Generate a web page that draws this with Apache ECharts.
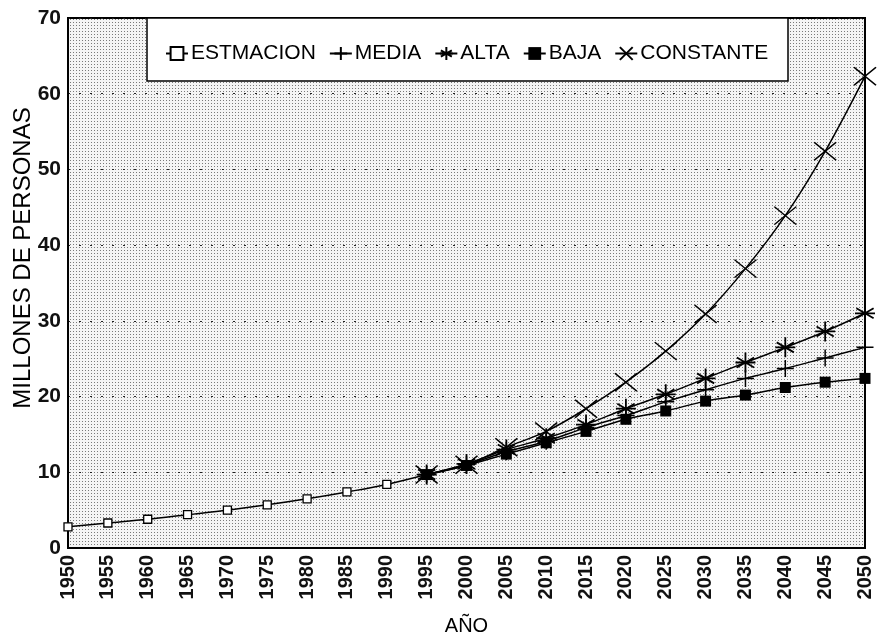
<!DOCTYPE html>
<html>
<head>
<meta charset="utf-8">
<script src="https://cdn.jsdelivr.net/npm/echarts@6/dist/echarts.min.js"></script>
<style>
	html, body { margin: 0; padding: 0; background: #fff; }
	#chart { width: 878px; height: 644px; }
</style>
</head>
<body>
<div id="chart"></div>
<script>
// datos
var yearsEst = [1950, 1955, 1960, 1965, 1970, 1975, 1980, 1985, 1990, 1995];
var estimacion = [2.8, 3.3, 3.8, 4.4, 5.0, 5.7, 6.5, 7.4, 8.4, 9.7];

var yearsProy = [1995, 2000, 2005, 2010, 2015, 2020, 2025, 2030, 2035, 2040, 2045, 2050];
var media = [9.7, 11.0, 12.7, 14.1, 15.9, 17.5, 19.3, 20.9, 22.4, 23.7, 25.1, 26.5];
var alta = [9.7, 11.1, 13.0, 14.5, 16.3, 18.4, 20.3, 22.4, 24.5, 26.5, 28.6, 31.0];
var baja = [9.7, 10.9, 12.4, 13.9, 15.4, 17.0, 18.1, 19.4, 20.2, 21.2, 21.9, 22.4];
var constante = [9.7, 11.0, 13.3, 15.4, 18.4, 21.9, 26.0, 30.9, 36.9, 43.9, 52.4, 62.3];

var FONT = '"Liberation Sans", Arial, sans-serif';

// simbolos de trazo
var PLUS = 'path://M0,5 L10,5 M5,0 L5,10';
var ASTER = 'path://M5,0 L5,10 M0.7,2.5 L9.3,7.5 M9.3,2.5 L0.7,7.5 M0,5 L10,5';
var CROSS = 'path://M0,0 L10,10 M10,0 L0,10';

function pairs(xs, ys) {
	return xs.map(function (x, i) { return [x, ys[i]]; });
}

// fondo punteado
function dotPattern() {
	var c = document.createElement('canvas');
	c.width = 3;
	c.height = 3;
	var ctx = c.getContext('2d');
	ctx.fillStyle = '#f5f5f5';
	ctx.fillRect(0, 0, 3, 3);
	ctx.fillStyle = '#7a7a7a';
	ctx.fillRect(1, 1, 1, 1);
	return c;
}

function lineSerie(name, data, symbol, size, fill, bw) {
	return {
		name: name,
		type: 'line',
		data: data,
		smooth: 0.35,
		symbol: symbol,
		symbolSize: size,
		showAllSymbol: true,
		lineStyle: { color: '#000', width: 1.5 },
		itemStyle: { color: fill, borderColor: '#000', borderWidth: bw },
		emphasis: { disabled: true },
		z: 2
	};
}

var myChart = echarts.init(document.getElementById('chart'), null, { renderer: 'canvas' });

var option = {
	animation: false,
	backgroundColor: '#fff',
	textStyle: { fontFamily: FONT, color: '#000' },
	grid: {
		left: 68,
		right: 13,
		top: 18,
		bottom: 96,
		outerBoundsMode: 'none',
		containLabel: false,
		show: true,
		backgroundColor: { image: dotPattern(), repeat: 'repeat' },
		borderColor: '#000',
		borderWidth: 2
	},
	graphic: [{
		// recuadro de la leyenda
		type: 'rect',
		shape: { x: 147, y: 18, width: 641, height: 63 },
		style: { fill: '#fff', stroke: '#000', lineWidth: 1.5 },
		z: 3
	}, {
		// titulo del eje Y
		type: 'text',
		x: 23,
		y: 258,
		rotation: Math.PI / 2,
		style: {
			text: 'MILLONES DE PERSONAS',
			font: '24px "Liberation Sans", Arial, sans-serif',
			fill: '#000',
			align: 'center',
			verticalAlign: 'middle'
		},
		z: 3
	}],
	legend: {
		left: 160,
		top: 38,
		itemGap: 13,
		itemWidth: 22,
		itemHeight: 16,
		z: 5,
		textStyle: { fontFamily: FONT, fontSize: 21, color: '#000', padding: [0, 0, 0, -2] },
		data: ['ESTMACION', 'MEDIA', 'ALTA', 'BAJA', 'CONSTANTE']
	},
	xAxis: {
		type: 'value',
		min: 1950,
		max: 2050,
		interval: 5,
		name: 'AÑO',
		nameLocation: 'middle',
		nameGap: 68,
		nameTextStyle: { fontFamily: FONT, fontSize: 20, color: '#000' },
		axisLine: { lineStyle: { color: '#000', width: 2 } },
		axisTick: { show: false },
		splitLine: { show: false },
		axisLabel: {
			rotate: 90,
			margin: 7,
			fontSize: 20,
			fontWeight: 'bold',
			color: '#111',
			fontFamily: FONT,
			formatter: function (v) { return String(v); }
		}
	},
	yAxis: {
		type: 'value',
		min: 0,
		max: 70,
		interval: 10,
		axisLine: { show: true, lineStyle: { color: '#000', width: 2 } },
		axisTick: { show: false },
		axisLabel: { margin: 7, fontSize: 21, fontWeight: 'bold', color: '#111', fontFamily: FONT },
		splitLine: { lineStyle: { color: '#222', width: 1.2, type: [2, 9] } }
	},
	series: [
		lineSerie('ESTMACION', pairs(yearsEst, estimacion), 'rect', 8, '#fff', 1.3),
		lineSerie('MEDIA', pairs(yearsProy, media), PLUS, 17, 'rgba(0,0,0,0)', 1.5),
		lineSerie('ALTA', pairs(yearsProy, alta), ASTER, 20, 'rgba(0,0,0,0)', 1.8),
		lineSerie('BAJA', pairs(yearsProy, baja), 'rect', 11, '#000', 0),
		lineSerie('CONSTANTE', pairs(yearsProy, constante), CROSS, [22, 18], 'rgba(0,0,0,0)', 1.5)
	]
};

myChart.setOption(option);
</script>
</body>
</html>
